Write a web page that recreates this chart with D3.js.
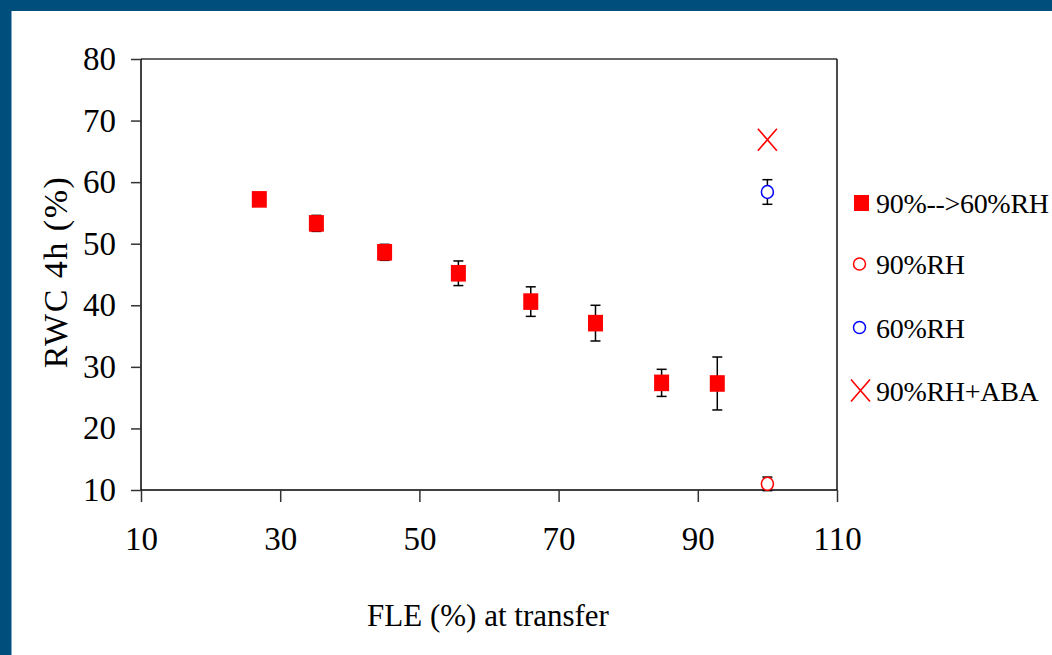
<!DOCTYPE html>
<html>
<head>
<meta charset="utf-8">
<script src="https://cdn.jsdelivr.net/npm/d3@7"></script>
<style>
  html, body { margin: 0; padding: 0; background: #fff; }
  svg { display: block; }
  text { font-family: "Liberation Serif", "Times New Roman", serif; fill: #000; }
</style>
</head>
<body>
<svg id="chart" width="1052" height="655"></svg>
<script>
// ---- Data ----
const fle = [27.0, 35.2, 45.0, 55.6, 66.0, 75.3, 84.8, 92.8];
const rwc = [57.2, 53.3, 48.6, 45.2, 40.6, 37.1, 27.4, 27.3];
const rwcErr = [0.8, 1.3, 1.3, 2.0, 2.4, 2.9, 2.2, 4.3];

const rh90X = [100];
const rh90Y = [11.0];
const rh90Err = [1.1];

const rh60X = [100];
const rh60Y = [58.4];
const rh60Err = [2.0];

const abaX = [100];
const abaY = [66.9];

const xTicks = [10, 30, 50, 70, 90, 110];
const yTicks = [10, 20, 30, 40, 50, 60, 70, 80];
const legendLabels = ["90%-->60%RH", "90%RH", "60%RH", "90%RH+ABA"];
const xTitle = "FLE (%) at transfer";
const yTitle = "RWC 4h (%)";

// ---- Layout ----
(function () {
const svg = d3.select("#chart");
const W = 1052, H = 655;
const pL = 141, pR = 837, pT = 59, pB = 490;

// frame
svg.append("rect").attr("x", 0).attr("y", 0).attr("width", W).attr("height", 11).attr("fill", "#004e7c");
svg.append("rect").attr("x", 0).attr("y", 0).attr("width", 11).attr("height", H).attr("fill", "#004e7c");
svg.append("rect").attr("x", 11).attr("y", 11).attr("width", 1).attr("height", H - 11).attr("fill", "#7fa6c4");

const x = d3.scaleLinear().domain([10, 110]).range([pL, pR]);
const y = d3.scaleLinear().domain([10, 80]).range([pB, pT]);

// plot box (top & right)
svg.append("line").attr("x1", pL).attr("x2", pR).attr("y1", pT).attr("y2", pT)
  .attr("stroke", "#333").attr("stroke-width", 1.5);
svg.append("line").attr("x1", pR).attr("x2", pR).attr("y1", pT).attr("y2", pB)
  .attr("stroke", "#111").attr("stroke-width", 1.5);

// axes
const xAxis = d3.axisBottom(x).tickValues(xTicks).tickSize(12).tickPadding(36).tickFormat(d3.format("d"));
const yAxis = d3.axisLeft(y).tickValues(yTicks).tickSize(10).tickPadding(15).tickFormat(d3.format("d"));

const gx = svg.append("g").attr("transform", `translate(0,${pB})`).call(xAxis);
const gy = svg.append("g").attr("transform", `translate(${pL},0)`).call(yAxis);

[gx, gy].forEach(g => {
  g.select(".domain").attr("stroke", "#000").attr("stroke-width", 1.5);
  g.selectAll(".tick line").attr("stroke", "#333").attr("stroke-width", 1.5);
  g.selectAll(".tick text").style("font-family", '"Liberation Serif", "Times New Roman", serif')
    .attr("font-size", 33).attr("fill", "#000");
});
gx.select(".domain").attr("d", `M${pL},0H${pR}`);
gy.select(".domain").attr("d", `M0,${pB}V${pT}`);
gx.selectAll(".tick text").attr("dy", "0.71em").attr("y", 37);

// axis titles
svg.append("text").attr("x", 488).attr("y", 626).attr("text-anchor", "middle")
  .attr("font-size", 31).text(xTitle);
svg.append("text").attr("transform", "translate(67,272) rotate(-90)")
  .attr("text-anchor", "middle").attr("font-size", 34).attr("letter-spacing", 1.5).text(yTitle);

// error bars helper
function errBars(xs, ys, es, cap) {
  const g = svg.append("g").attr("stroke", "#000").attr("stroke-width", 1.5);
  xs.forEach((xv, i) => {
    const cx = x(xv), y1 = y(ys[i] + es[i]), y2 = y(ys[i] - es[i]);
    g.append("line").attr("x1", cx).attr("x2", cx).attr("y1", y1).attr("y2", y2);
    g.append("line").attr("x1", cx - cap).attr("x2", cx + cap).attr("y1", y1).attr("y2", y1);
    g.append("line").attr("x1", cx - cap).attr("x2", cx + cap).attr("y1", y2).attr("y2", y2);
  });
}

// main series
errBars(fle, rwc, rwcErr, 5);
svg.append("g").selectAll("rect").data(fle).join("rect")
  .attr("x", d => x(d) - 7.5).attr("y", (d, i) => y(rwc[i]) - 8.3)
  .attr("width", 15).attr("height", 16.6).attr("fill", "#ff0000");

// 90% RH
errBars(rh90X, rh90Y, rh90Err, 5);
svg.append("g").selectAll("ellipse").data(rh90X).join("ellipse")
  .attr("cx", d => x(d)).attr("cy", (d, i) => y(rh90Y[i]))
  .attr("rx", 6).attr("ry", 6.5).attr("fill", "#fff").attr("stroke", "#ff0000").attr("stroke-width", 1.5);

// 60% RH
errBars(rh60X, rh60Y, rh60Err, 5);
svg.append("g").selectAll("ellipse").data(rh60X).join("ellipse")
  .attr("cx", d => x(d)).attr("cy", (d, i) => y(rh60Y[i]))
  .attr("rx", 6).attr("ry", 6.5).attr("fill", "#fff").attr("stroke", "#0000ff").attr("stroke-width", 1.5);

// 90% RH + ABA
function cross(g, cx, cy, hw, hh) {
  g.append("path").attr("d", `M${cx - hw},${cy - hh}L${cx + hw},${cy + hh}M${cx - hw},${cy + hh}L${cx + hw},${cy - hh}`)
    .attr("stroke", "#ff0000").attr("stroke-width", 1.6).attr("fill", "none");
}
const abaG = svg.append("g");
abaX.forEach((d, i) => cross(abaG, x(d), y(abaY[i]), 9.5, 11));

// legend
const legY = [203, 264, 327.5, 390.5];
const lg = svg.append("g");
lg.append("rect").attr("x", 854).attr("y", legY[0] - 8).attr("width", 15).attr("height", 16).attr("fill", "#ff0000");
lg.append("ellipse").attr("cx", 859.5).attr("cy", legY[1]).attr("rx", 6).attr("ry", 6)
  .attr("fill", "none").attr("stroke", "#ff0000").attr("stroke-width", 1.5);
lg.append("ellipse").attr("cx", 859.5).attr("cy", legY[2]).attr("rx", 6).attr("ry", 6)
  .attr("fill", "none").attr("stroke", "#0000ff").attr("stroke-width", 1.5);
cross(lg, 860.5, legY[3], 9.5, 11);
legendLabels.forEach((t, i) => {
  lg.append("text").attr("x", 876).attr("y", legY[i] + 10).attr("font-size", 28)
    .attr("letter-spacing", -0.3).text(t);
});
})();
</script>
</body>
</html>
